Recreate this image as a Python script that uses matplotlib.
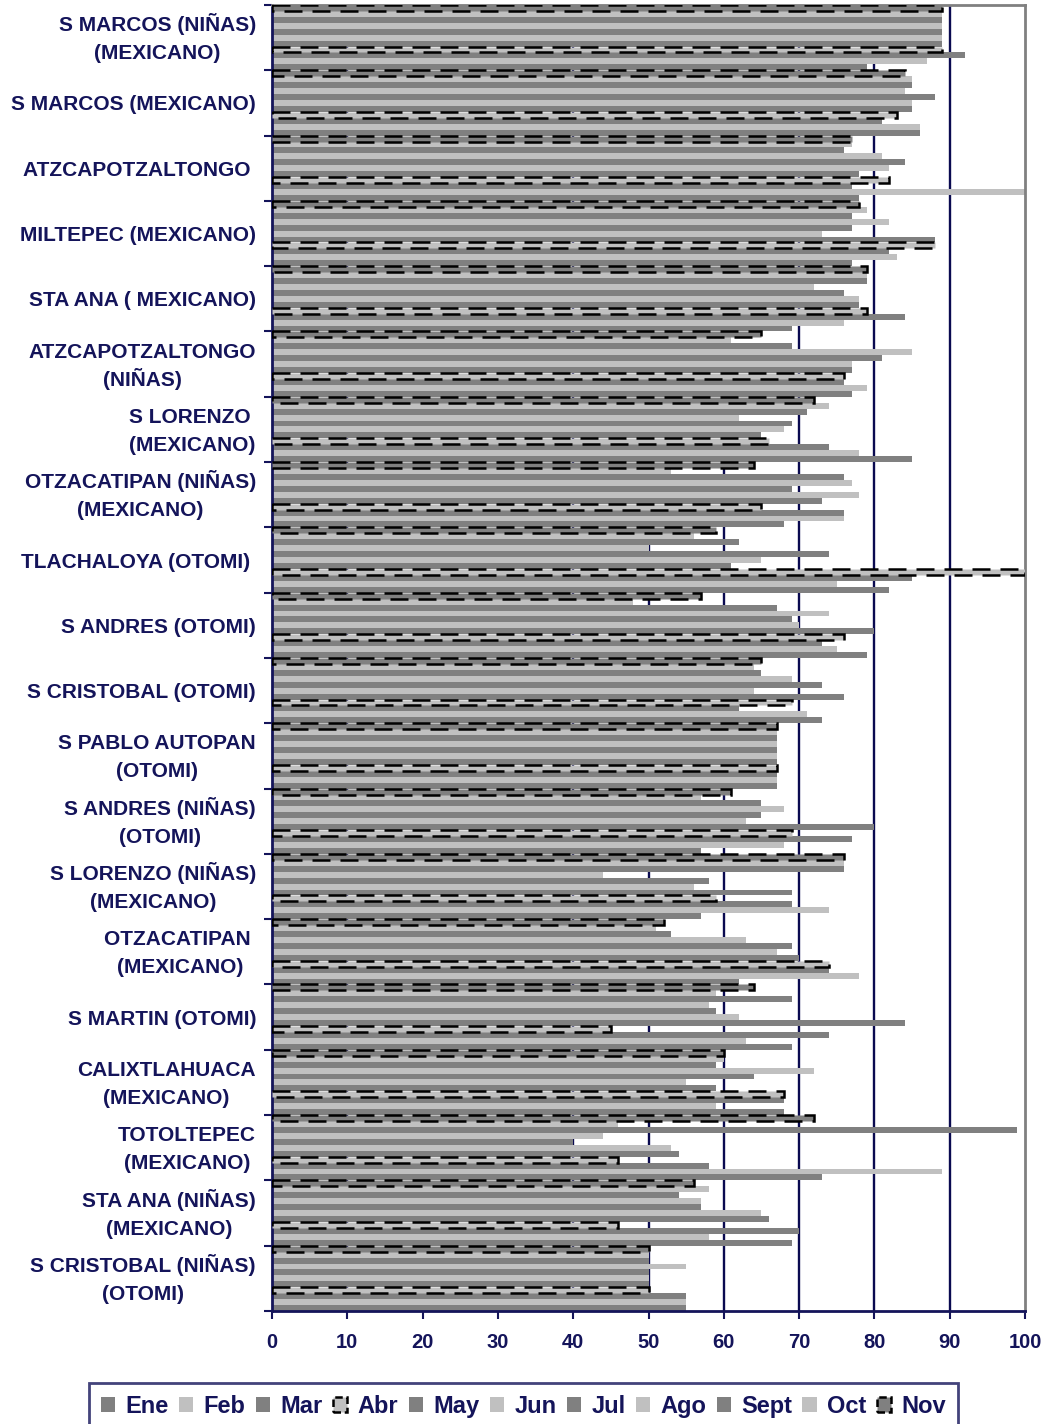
import matplotlib
matplotlib.use("Agg")
import matplotlib.pyplot as plt
import matplotlib.transforms as mtransforms
import numpy as np
from matplotlib.patches import Patch
from matplotlib.font_manager import FontProperties

plt.rcParams['font.family'] = ['Liberation Sans', 'DejaVu Sans']
plt.rcParams['font.weight'] = 'bold'

NAVY = '#14145a'
DARK = '#808080'
LIGHT = '#c0c0c0'

# Schools, listed top to bottom
categories = [
    "S MARCOS (NIÑAS)\n(MEXICANO)",
    "S MARCOS (MEXICANO)",
    "ATZCAPOTZALTONGO ",
    "MILTEPEC (MEXICANO)",
    "STA ANA ( MEXICANO)",
    "ATZCAPOTZALTONGO\n(NIÑAS)",
    "S LORENZO \n(MEXICANO)",
    "OTZACATIPAN (NIÑAS)\n(MEXICANO)",
    "TLACHALOYA (OTOMI) ",
    "S ANDRES (OTOMI)",
    "S CRISTOBAL (OTOMI)",
    "S PABLO AUTOPAN\n(OTOMI)",
    "S ANDRES (NIÑAS)\n(OTOMI)",
    "S LORENZO (NIÑAS)\n(MEXICANO)",
    "OTZACATIPAN \n(MEXICANO)",
    "S MARTIN (OTOMI)",
    "CALIXTLAHUACA\n(MEXICANO)",
    "TOTOLTEPEC\n(MEXICANO)",
    "STA ANA (NIÑAS)\n(MEXICANO)",
    "S CRISTOBAL (NIÑAS)\n(OTOMI)",
]

months = ["Ene", "Feb", "Mar", "Abr", "May", "Jun", "Jul", "Ago", "Sept", "Oct", "Nov"]

ene = [79, 86, 78, 77, 69, 77, 85, 68, 82, 79, 73, 67, 57, 57, 62, 69, 68, 73, 69, 55]
feb = [87, 86, 100, 83, 76, 79, 78, 76, 75, 75, 71, 67, 68, 74, 78, 63, 59, 89, 58, 55]
mar = [92, 81, 77, 82, 84, 76, 74, 76, 85, 73, 62, 67, 77, 69, 74, 74, 68, 58, 70, 55]
abr = [89, 83, 82, 88, 79, 76, 66, 65, 100, 76, 69, 67, 69, 59, 74, 45, 68, 46, 46, 50]
may = [89, 85, 78, 88, 78, 77, 65, 73, 61, 80, 76, 67, 80, 69, 70, 84, 59, 54, 66, 50]
jun = [89, 85, 82, 73, 78, 77, 68, 78, 65, 70, 64, 67, 63, 56, 67, 62, 55, 53, 65, 50]
jul = [89, 88, 84, 77, 76, 81, 69, 69, 74, 69, 73, 67, 65, 58, 69, 59, 64, 40, 57, 50]
ago = [89, 84, 81, 82, 72, 85, 62, 77, 50, 74, 69, 67, 68, 44, 63, 58, 72, 44, 57, 55]
sept = [89, 85, 76, 77, 79, 69, 71, 76, 62, 67, 65, 67, 65, 76, 53, 69, 59, 99, 54, 50]
octu = [89, 85, 77, 79, 79, 61, 74, 53, 56, 48, 64, 67, 57, 76, 51, 59, 60, 46, 58, 50]
nov = [89, 84, 77, 78, 79, 65, 72, 64, 59, 57, 65, 67, 61, 76, 52, 64, 60, 72, 56, 50]

series = [ene, feb, mar, abr, may, jun, jul, ago, sept, octu, nov]
fills = [DARK, LIGHT, DARK, LIGHT, DARK, LIGHT, DARK, LIGHT, DARK, LIGHT, DARK]
dashed = {"Abr", "Nov"}
dash_style = (0, (7.2, 4.0))

fig = plt.figure(figsize=(10.48, 14.24), dpi=100)
ax = fig.add_axes([272 / 1048, 1 - 1311 / 1424, (1025 - 272) / 1048, (1311 - 5) / 1424])

n = len(months)
h = 1.0 / n
ypos = np.arange(len(categories))

# plain bars first, dashed-border bars on top
for j, (name, vals, col) in enumerate(zip(months, series, fills)):
    y = ypos + (5 - j) * h
    if name in dashed:
        ax.barh(y, vals, height=h, color=col, edgecolor='black',
                linewidth=1.8, linestyle=dash_style, zorder=3)
    else:
        ax.barh(y, vals, height=h, color=col, linewidth=0, zorder=2)

ax.set_xlim(0, 100)
ax.set_ylim(len(categories) - 0.5, -0.5)

ax.set_xticks(np.arange(0, 101, 10))
ax.tick_params(axis='x', direction='out', length=6, width=1.5, color=NAVY,
               labelsize=14.5, labelcolor=NAVY, pad=10)
for lbl in ax.get_xticklabels():
    lbl.set_fontweight('bold')

# group separators on the category axis
ax.set_yticks([])
ax.set_yticks(np.arange(-0.5, len(categories), 1.0), minor=True)
ax.tick_params(axis='y', which='minor', direction='out', length=6, width=1.5,
               color=NAVY, labelleft=False)

# category labels: lines centred on each other, block right-aligned beside the axis
fp = FontProperties(family=['Liberation Sans', 'DejaVu Sans'], weight='bold', size=15)
renderer = fig.canvas.get_renderer()


def line_width(s):
    core = s.rstrip(' ')
    padded = core + 'I' * (len(s) - len(core))  # 'I' has the advance of a space
    w, _, _ = renderer.get_text_width_height_descent(padded, fp, ismath=False)
    return w


GAP = 16.0       # px between label block and axis
STEP = 28.0      # px between baselines
CAP_HALF = 7.5   # px from vertical centre of caps to baseline
base = mtransforms.blended_transform_factory(ax.transAxes, ax.transData)
for yc, label in zip(ypos, categories):
    lines = label.split("\n")
    widths = [line_width(s) for s in lines]
    block_w = max(widths)
    first = CAP_HALF - STEP * (len(lines) - 1) / 2.0
    for k, (s, w) in enumerate(zip(lines, widths)):
        dx = -(GAP + block_w / 2.0 + w / 2.0)
        dy = -(first + STEP * k)
        tr = base + mtransforms.ScaledTranslation(dx / fig.dpi, dy / fig.dpi, fig.dpi_scale_trans)
        ax.text(0, yc, s, transform=tr, ha='left', va='baseline',
                fontproperties=fp, color=NAVY, clip_on=False)

ax.set_axisbelow(True)
ax.xaxis.grid(True, color='#0a0a50', linewidth=1.7)
gl = ax.get_xgridlines()
gl[0].set_visible(False)
gl[-1].set_visible(False)

ax.spines['left'].set_color(NAVY)
ax.spines['left'].set_linewidth(2)
ax.spines['bottom'].set_color(NAVY)
ax.spines['bottom'].set_linewidth(2)
ax.spines['top'].set_color('#808080')
ax.spines['top'].set_linewidth(2)
ax.spines['right'].set_color('#808080')
ax.spines['right'].set_linewidth(2)

handles = []
for name, col in zip(months, fills):
    if name in dashed:
        handles.append(Patch(facecolor=col, edgecolor='black', linewidth=1.8,
                             linestyle=(0, (3, 1.5)), label=name))
    else:
        handles.append(Patch(facecolor=col, edgecolor='none', label=name))

leg = fig.legend(handles=handles, loc='upper center', bbox_to_anchor=(0.4995, 1 - 1383 / 1424),
                 borderaxespad=0, ncol=n, frameon=True, fancybox=False, borderpad=0.5,
                 handlelength=0.6, handleheight=0.6, handletextpad=0.45,
                 columnspacing=0.43, prop={'size': 17, 'weight': 'bold'})
leg.get_frame().set_edgecolor(NAVY)
leg.get_frame().set_linewidth(2)
for t in leg.get_texts():
    t.set_color(NAVY)

fig.savefig("out.png", dpi=100)
